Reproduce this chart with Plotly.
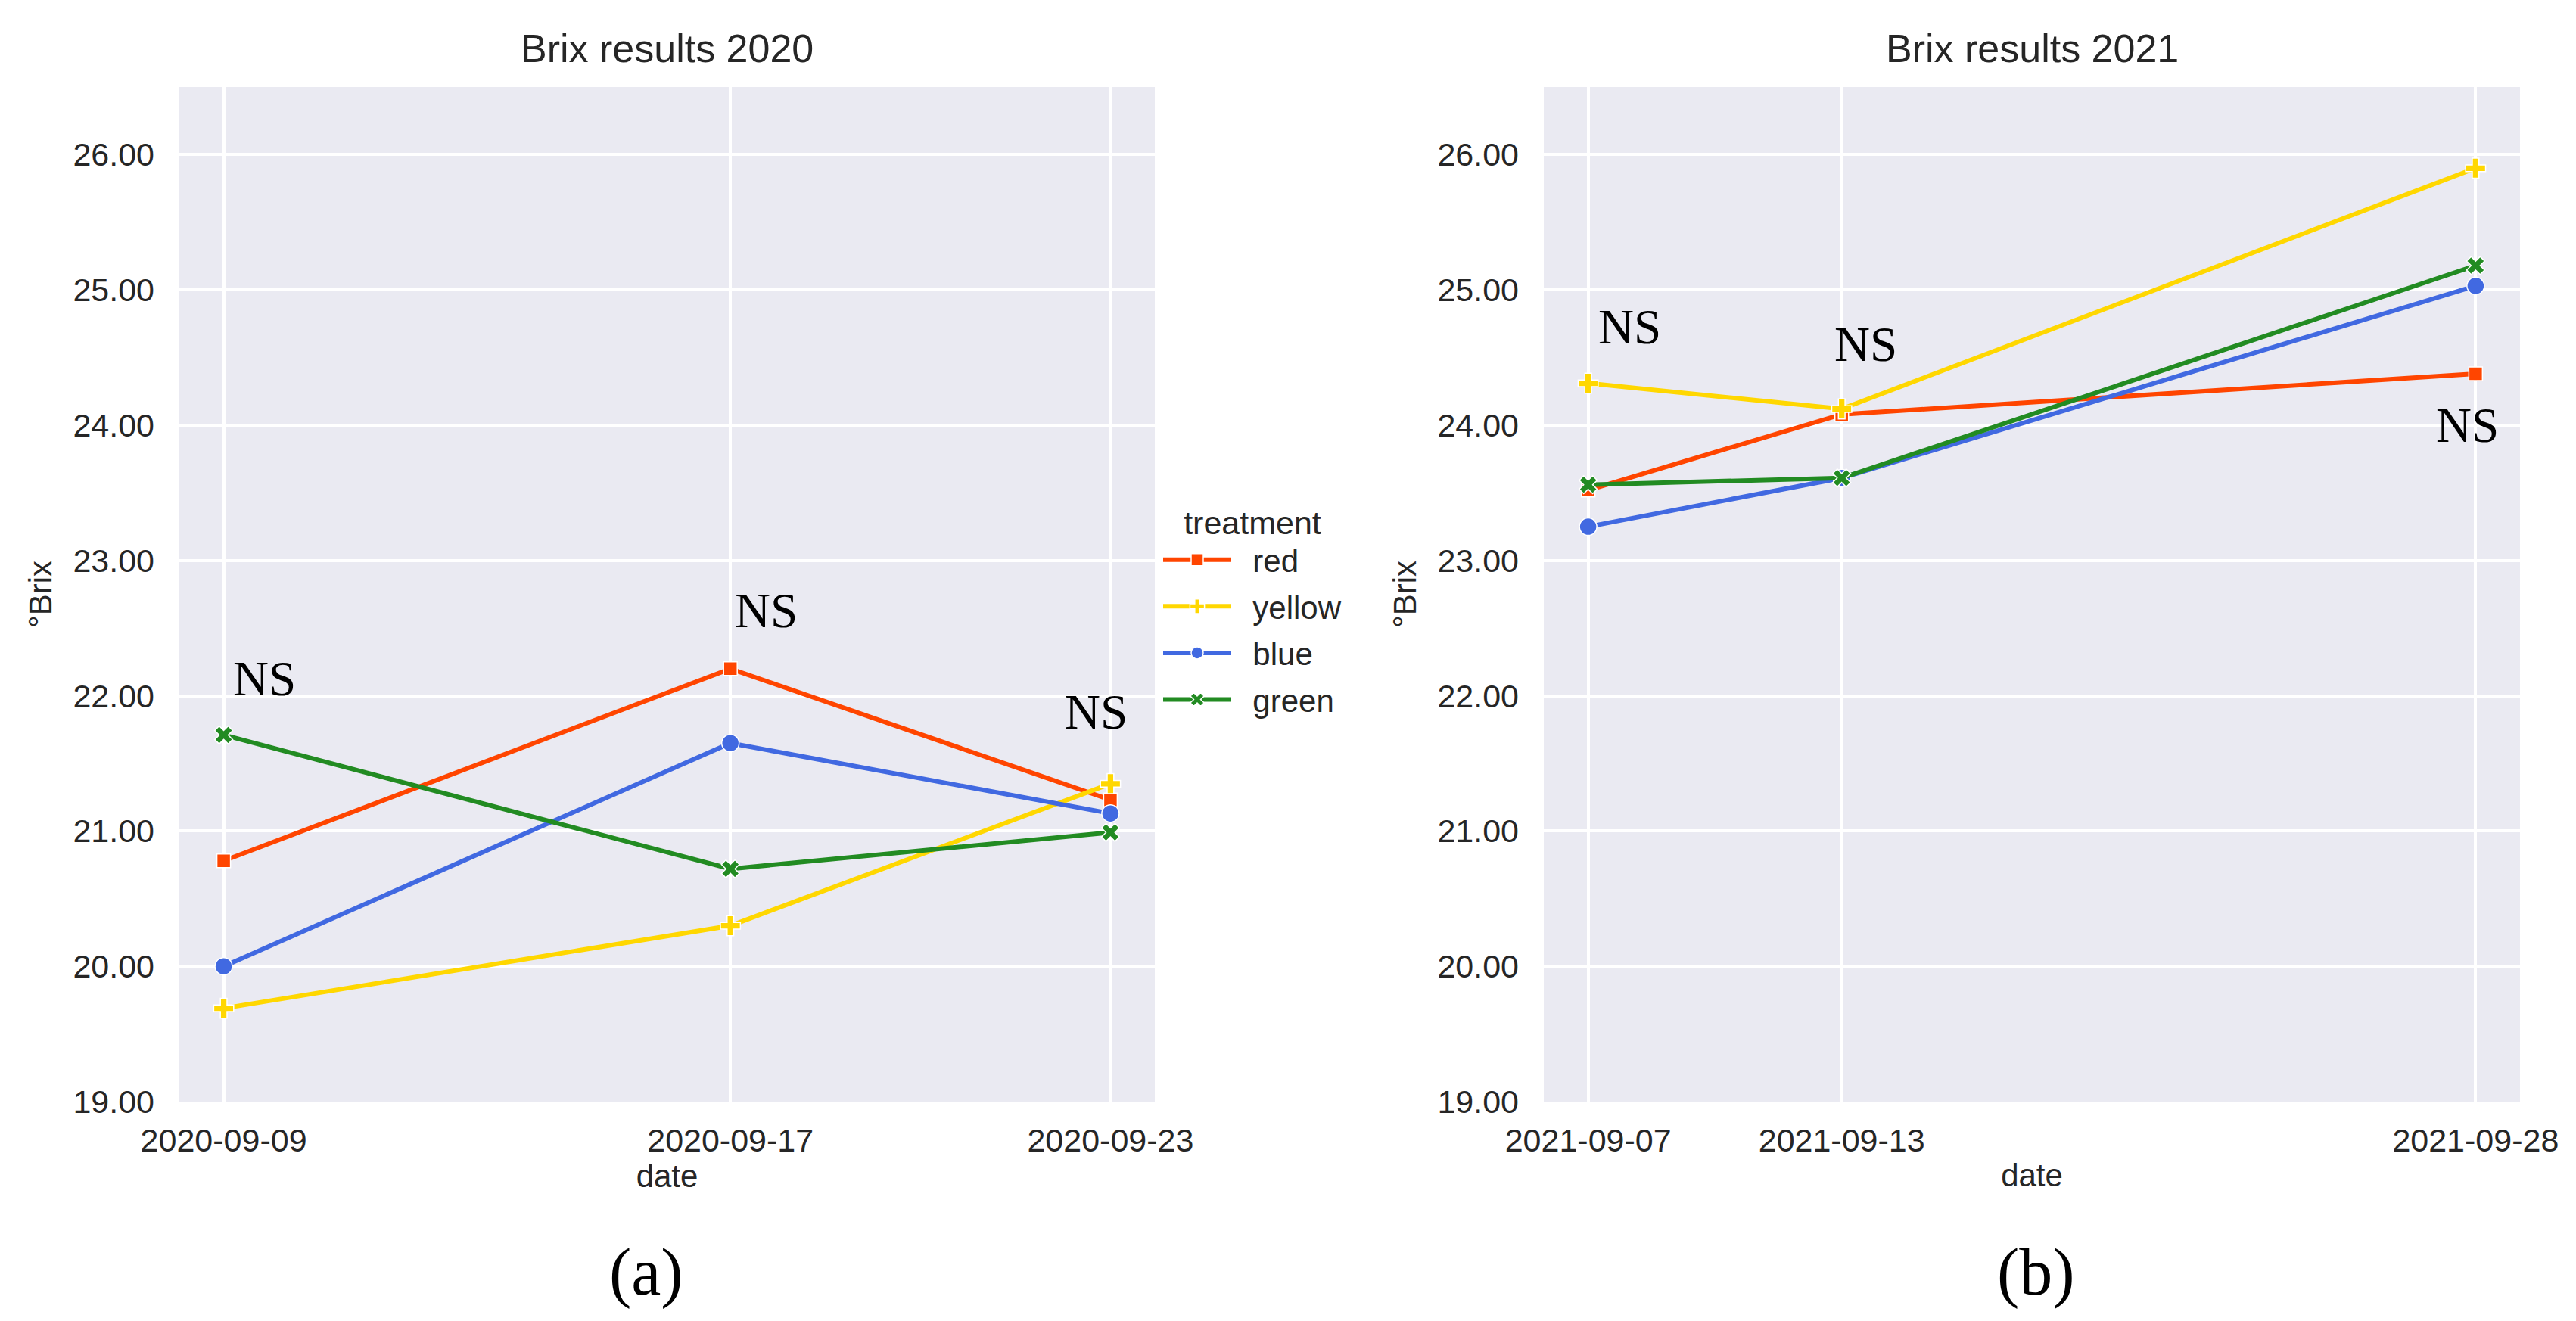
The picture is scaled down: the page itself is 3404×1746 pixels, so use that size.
import pandas as pd
import plotly.graph_objects as go

# brix values, one list per treatment and year
treatments = ["red", "yellow", "blue", "green"]
dates_2020 = ["2020-09-09", "2020-09-17", "2020-09-23"]
dates_2021 = ["2021-09-07", "2021-09-13", "2021-09-28"]

red_2020 = [20.78, 22.20, 21.23]
yellow_2020 = [19.69, 20.30, 21.35]
blue_2020 = [20.00, 21.65, 21.13]
green_2020 = [21.71, 20.72, 20.99]

red_2021 = [23.52, 24.08, 24.38]
yellow_2021 = [24.31, 24.12, 25.90]
blue_2021 = [23.25, 23.61, 25.03]
green_2021 = [23.56, 23.61, 25.18]

y_ticks = [19, 20, 21, 22, 23, 24, 25, 26]

# "NS" labels (date, brix level of the text baseline)
ns_2020 = [("2020-09-09 03:00", 22.0), ("2020-09-17 01:00", 22.5), ("2020-09-22 06:00", 21.75)]
ns_2021 = [("2021-09-07 05:00", 24.6), ("2021-09-12 19:00", 24.47), ("2021-09-27 00:30", 23.87)]

values = {
    "2020": dict(zip(treatments, [red_2020, yellow_2020, blue_2020, green_2020])),
    "2021": dict(zip(treatments, [red_2021, yellow_2021, blue_2021, green_2021])),
}
dates = {"2020": dates_2020, "2021": dates_2021}

colors = {"red": "#FF4500", "yellow": "#FFD700", "blue": "#4169E1", "green": "#228B22"}
symbols = {"red": "square", "yellow": "cross", "blue": "circle", "green": "x"}
sizes = {"red": 18, "yellow": 22, "blue": 23, "green": 21}

SANS = "Liberation Sans, Arial, sans-serif"
SERIF = "Liberation Serif, Times New Roman, serif"
TXT = "#262626"
PAD = "\u00a0\u00a0"  # gap between legend line and its label

W, H = 3404, 1746

fig = go.Figure()

axes = {"2020": ("x", "y"), "2021": ("x2", "y2")}
for year in ["2020", "2021"]:
    xa, ya = axes[year]
    for t in treatments:
        fig.add_trace(go.Scatter(
            x=dates[year], y=values[year][t], mode="lines+markers", name=PAD + t,
            xaxis=xa, yaxis=ya, legendgroup=t, showlegend=(year == "2020"),
            line=dict(color=colors[t], width=6),
            marker=dict(symbol=symbols[t], size=sizes[t], color=colors[t],
                        line=dict(color="white", width=1.5)),
        ))


def date_range(ds):
    d = pd.to_datetime(pd.Series(ds))
    pad = (d.max() - d.min()) * 0.05
    return [(d.min() - pad).strftime("%Y-%m-%d %H:%M"), (d.max() + pad).strftime("%Y-%m-%d %H:%M")]


y_dom = [1 - 1448 / H, 1 - 107 / H]
x_doms = {"2020": [229 / W, 1518 / W], "2021": [2032 / W, 3322 / W]}

common_x = dict(type="date", showgrid=True, gridcolor="white", gridwidth=4, zeroline=False,
                showline=False, ticks="", automargin=False,
                tickfont=dict(family=SANS, size=43, color=TXT),
                ticklabelstandoff=22, tickformat="%Y-%m-%d",
                title=dict(text="date", font=dict(family=SANS, size=42, color=TXT), standoff=8))
common_y = dict(range=[19, 26.5], tickvals=y_ticks, tickformat=".2f", showgrid=True,
                gridcolor="white", gridwidth=4, zeroline=False, showline=False, ticks="",
                automargin=False, tickfont=dict(family=SANS, size=43, color=TXT),
                ticklabelstandoff=32,
                title=dict(text="°Brix", font=dict(family=SANS, size=42, color=TXT), standoff=14))

fig.update_layout(
    width=W, height=H,
    margin=dict(l=0, r=0, t=0, b=0, autoexpand=False),
    paper_bgcolor="white", plot_bgcolor="#EAEAF2",
    xaxis=dict(common_x, domain=x_doms["2020"], anchor="y", range=date_range(dates_2020),
               tickvals=dates_2020),
    yaxis=dict(common_y, domain=y_dom, anchor="x"),
    xaxis2=dict(common_x, domain=x_doms["2021"], anchor="y2", range=date_range(dates_2021),
                tickvals=dates_2021),
    yaxis2=dict(common_y, domain=y_dom, anchor="x2"),
    showlegend=True,
    legend=dict(
        x=1524 / W, y=1 - 642 / H, xanchor="left", yanchor="top",
        bgcolor="rgba(0,0,0,0)", borderwidth=0,
        font=dict(family=SANS, size=42, color=TXT),
        title=dict(text="treatment", side="top center", font=dict(family=SANS, size=43, color=TXT)),
        traceorder="grouped", tracegroupgap=4, itemwidth=90,
    ),
)

annotations = []
for year, title in [("2020", "Brix results 2020"), ("2021", "Brix results 2021")]:
    dom = x_doms[year]
    annotations.append(dict(text=title, xref="paper", yref="paper", x=(dom[0] + dom[1]) / 2,
                            y=y_dom[1], xanchor="center", yanchor="bottom", yshift=20,
                            showarrow=False, font=dict(family=SANS, size=52, color=TXT)))

for (xa, ya), ns in [(("x", "y"), ns_2020), (("x2", "y2"), ns_2021)]:
    for d, v in ns:
        annotations.append(dict(text="NS", xref=xa, yref=ya, x=d, y=v, xanchor="left",
                                yanchor="bottom", yshift=-15, showarrow=False,
                                font=dict(family=SERIF, size=65, color="black")))

for label, xc in [("(a)", 846), ("(b)", 2682)]:
    annotations.append(dict(text=label, xref="paper", yref="paper", x=xc / W, y=1 - 1681 / H,
                            xanchor="center", yanchor="middle", yshift=8, showarrow=False,
                            font=dict(family=SERIF, size=88, color="black")))

fig.update_layout(annotations=annotations)

fig.write_html("out.html")
